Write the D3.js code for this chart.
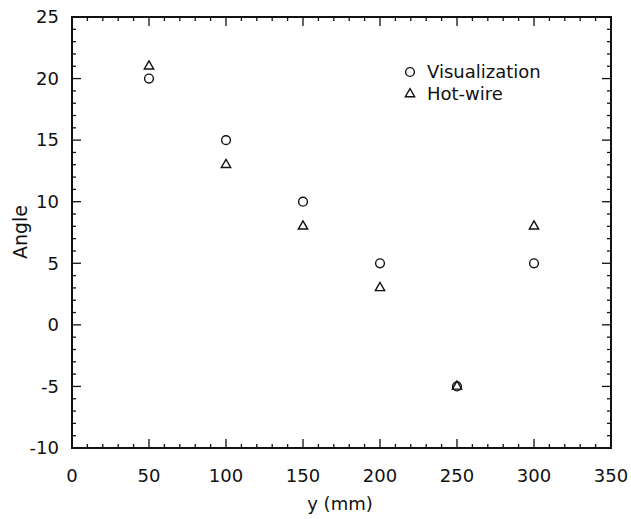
<!DOCTYPE html>
<html>
<head>
<meta charset="utf-8">
<script src="https://cdn.jsdelivr.net/npm/d3@7"></script>
<style>
  body { margin: 0; background: #fff; }
  text { font-family: "DejaVu Sans", "Liberation Sans", sans-serif; fill: #111; }
</style>
</head>
<body>
<svg id="chart"></svg>
<script>
const width = 631;
const height = 519;

// data
const positions = [50, 100, 150, 200, 250, 300];
const visualization = [20, 15, 10, 5, -5, 5];
const hotWire = [21, 13, 8, 3, -5, 8];
const xTicks = [0, 50, 100, 150, 200, 250, 300, 350];
const yTicks = [-10, -5, 0, 5, 10, 15, 20, 25];

const margin = {top: 17, right: 20, bottom: 71, left: 72};

const x = d3.scaleLinear().domain([0, 350]).range([margin.left, width - margin.right]);
const y = d3.scaleLinear().domain([-10, 25]).range([height - margin.bottom, margin.top]);

const svg = d3.select("#chart").attr("width", width).attr("height", height);

const x0 = x.range()[0], x1 = x.range()[1];
const y0 = y.range()[0], y1 = y.range()[1];

// minor + major ticks, pointing inward on all four sides
const g = svg.append("g").attr("stroke", "#111").attr("stroke-width", 1.3);

d3.range(0, 351, 10).forEach(v => {
    const len = v % 50 === 0 ? 9 : 4;
    g.append("line").attr("x1", x(v)).attr("x2", x(v)).attr("y1", y0).attr("y2", y0 - len);
    g.append("line").attr("x1", x(v)).attr("x2", x(v)).attr("y1", y1).attr("y2", y1 + len);
});
d3.range(-10, 25.5, 1).forEach(v => {
    const len = v % 5 === 0 ? 9 : 4;
    g.append("line").attr("y1", y(v)).attr("y2", y(v)).attr("x1", x0).attr("x2", x0 + len);
    g.append("line").attr("y1", y(v)).attr("y2", y(v)).attr("x1", x1).attr("x2", x1 - len);
});

svg.append("rect")
    .attr("x", x0).attr("y", y1)
    .attr("width", x1 - x0).attr("height", y0 - y1)
    .attr("fill", "none").attr("stroke", "#111").attr("stroke-width", 2);

// tick labels
svg.append("g").selectAll("text")
    .data(xTicks).enter().append("text")
    .attr("x", d => x(d)).attr("y", y0 + 34)
    .attr("text-anchor", "middle")
    .style("font-size", "18px")
    .text(d => d);

svg.append("g").selectAll("text")
    .data(yTicks).enter().append("text")
    .attr("x", x0 - 13).attr("y", d => y(d)).attr("dy", "0.35em")
    .attr("text-anchor", "end")
    .style("font-size", "18px")
    .text(d => d);

svg.append("text")
    .attr("x", 340).attr("y", height - 9)
    .attr("text-anchor", "middle").style("font-size", "18px")
    .text("y (mm)");

svg.append("text")
    .attr("transform", `translate(27,232) rotate(-90)`)
    .attr("text-anchor", "middle").style("font-size", "19px")
    .text("Angle");

// markers
const tri = d3.symbol().type(d3.symbolTriangle).size(38);

svg.append("g").selectAll("circle")
    .data(positions).enter().append("circle")
    .attr("cx", d => x(d)).attr("cy", (d, i) => y(visualization[i]))
    .attr("r", 4.4)
    .attr("fill", "none").attr("stroke", "#111").attr("stroke-width", 1.4);

svg.append("g").selectAll("path")
    .data(positions).enter().append("path")
    .attr("d", tri)
    .attr("transform", (d, i) => `translate(${x(d)},${y(hotWire[i])})`)
    .attr("fill", "none").attr("stroke", "#111").attr("stroke-width", 1.4);

// legend
const lg = svg.append("g");
lg.append("circle").attr("cx", 410).attr("cy", 72).attr("r", 4.4)
    .attr("fill", "none").attr("stroke", "#111").attr("stroke-width", 1.4);
lg.append("text").attr("x", 427).attr("y", 72).attr("dy", "0.35em")
    .style("font-size", "18px").text("Visualization");
lg.append("path").attr("d", tri).attr("transform", "translate(410,94)")
    .attr("fill", "none").attr("stroke", "#111").attr("stroke-width", 1.4);
lg.append("text").attr("x", 427).attr("y", 94).attr("dy", "0.35em")
    .style("font-size", "18px").text("Hot-wire");
</script>
</body>
</html>
